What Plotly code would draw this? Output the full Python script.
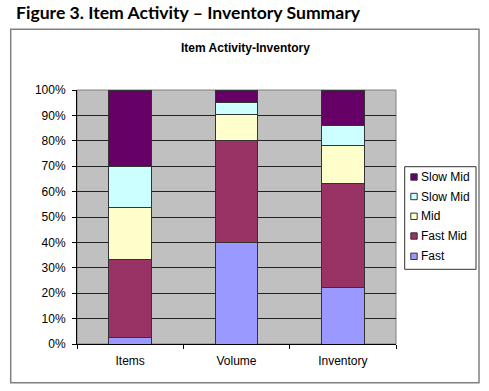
import plotly.graph_objects as go

categories = ["Items", "Volume", "Inventory"]
series_names = ["Fast", "Fast Mid", "Mid", "Slow Mid", "Slow Mid"]
fast = [2.6, 40.0, 22.2]
fast_mid = [30.6, 40.0, 40.9]
mid = [20.5, 10.4, 14.9]
slow_mid_light = [16.0, 4.6, 8.1]
slow_mid_dark = [30.3, 5.0, 13.9]
series_values = [fast, fast_mid, mid, slow_mid_light, slow_mid_dark]
colors = ["#9999FF", "#993366", "#FFFFCC", "#CCFFFF", "#660066"]
y_tickvals = [0, 10, 20, 30, 40, 50, 60, 70, 80, 90, 100]
y_ticktext = ["0%", "10%", "20%", "30%", "40%", "50%", "60%", "70%", "80%", "90%", "100%"]

fig = go.Figure()
for i, (name, vals, col) in enumerate(zip(series_names, series_values, colors)):
    fig.add_trace(go.Bar(
        x=categories, y=vals, name=name, marker_color=col,
        marker_line=dict(color="#333333", width=1),
        width=0.4, showlegend=False,
    ))

W, H = 489, 391
L, R, T, B = 77, 396, 90, 344  # plot area in pixels
pw, ph = R - L, B - T

def px(x):
    return (x - L) / pw

def py(y):
    return (B - y) / ph

shapes = [
    dict(type="rect", xref="paper", yref="paper",
         x0=px(10.7), x1=px(479), y0=py(382.7), y1=py(29.3),
         line=dict(color="#808080", width=1.5), layer="below"),
    dict(type="rect", xref="paper", yref="paper",
         x0=0, x1=1, y0=0, y1=1,
         line=dict(color="#808080", width=1), layer="below"),
    # legend box
    dict(type="rect", xref="paper", yref="paper",
         x0=px(404.7), x1=px(476), y0=py(269.3), y1=py(166.7),
         line=dict(color="#333333", width=1), fillcolor="white", layer="above"),
]
annotations = [
    dict(text="<b>Figure 3. Item Activity – Inventory Summary</b>",
         xref="paper", yref="paper", x=px(14), y=py(12), xanchor="left", yanchor="middle",
         showarrow=False, font=dict(family="Lato, Open Sans", size=17.6, color="#000000")),
    dict(text="<b>Item Activity-Inventory</b>",
         xref="paper", yref="paper", x=px(245), y=py(47.5), xanchor="center", yanchor="middle",
         showarrow=False, font=dict(family="Arial, Liberation Sans", size=12, color="#000000")),
]

# legend entries (top to bottom = reversed trace order)
entry_y = [177, 196.5, 216.3, 236, 256.3]
for k, idx in enumerate(reversed(range(len(series_names)))):
    yc = entry_y[k]
    shapes.append(dict(type="rect", xref="paper", yref="paper",
                       x0=px(410.8), x1=px(417.2), y0=py(yc + 3.2), y1=py(yc - 3.2),
                       line=dict(color="#333333", width=1), fillcolor=colors[idx], layer="above"))
    annotations.append(dict(text=series_names[idx], xref="paper", yref="paper",
                            x=px(418.8), y=py(yc), xanchor="left", yanchor="middle",
                            showarrow=False,
                            font=dict(family="Arial, Liberation Sans", size=12, color="#000000")))

fig.update_layout(
    width=W, height=H,
    margin=dict(l=L, r=W - R, t=T, b=H - B, pad=0),
    barmode="stack",
    paper_bgcolor="white",
    plot_bgcolor="#C0C0C0",
    font=dict(family="Arial, Liberation Sans", size=12, color="#000000"),
    showlegend=False,
    hovermode=False,
    xaxis=dict(
        showgrid=False, showline=True, linecolor="#000000", linewidth=1,
        ticks="outside", tickson="boundaries", ticklen=4, tickcolor="#000000",
        tickfont=dict(size=12), ticklabelstandoff=6,
    ),
    yaxis=dict(
        range=[0, 100], tickvals=y_tickvals, ticktext=y_ticktext,
        showgrid=True, gridcolor="#222222", gridwidth=1,
        showline=True, linecolor="#000000", linewidth=1,
        ticks="outside", ticklen=4, tickcolor="#000000",
        tickfont=dict(size=12), zeroline=False, ticklabelstandoff=4,
    ),
    shapes=shapes,
    annotations=annotations,
)

fig.write_html("out.html", config={"displayModeBar": False, "staticPlot": True},
               post_script="document.body.style.margin='0';document.body.style.overflow='hidden';")
